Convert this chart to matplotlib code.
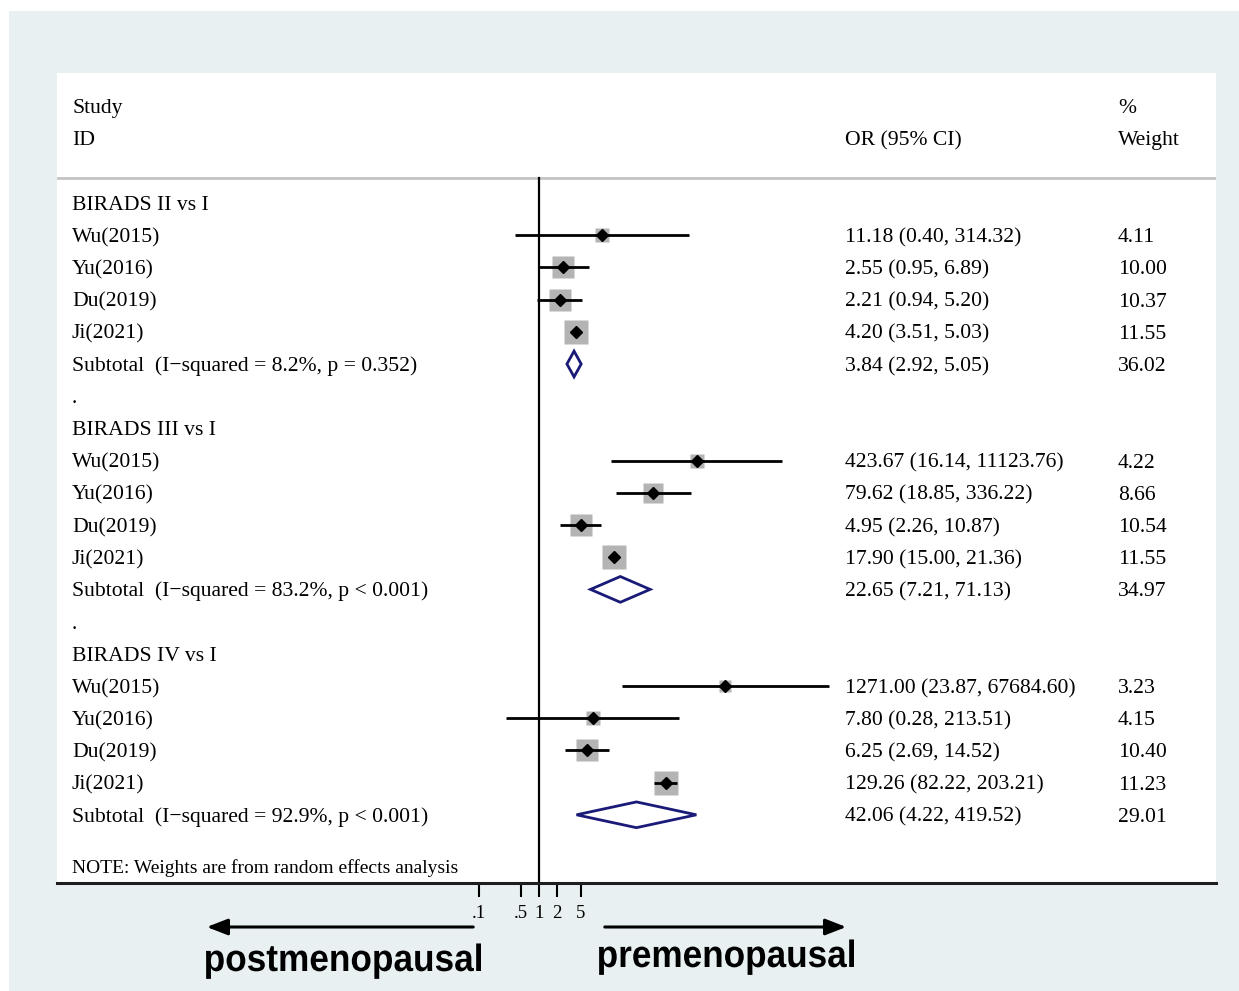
import numpy as np
import matplotlib
matplotlib.use("Agg")
import matplotlib.pyplot as plt
from matplotlib.patches import Rectangle, FancyArrowPatch, PathPatch
from matplotlib.textpath import TextPath
from matplotlib.font_manager import FontProperties
from matplotlib.transforms import blended_transform_factory, Affine2D, IdentityTransform
from matplotlib.ticker import FixedLocator, FixedFormatter, NullLocator

# ============================================================================
# DATA
# ============================================================================
studies = ["Wu(2015)", "Yu(2016)", "Du(2019)", "Ji(2021)"]
groups = ["BIRADS II vs I", "BIRADS III vs I", "BIRADS IV vs I"]

or_est = [[11.18, 2.55, 2.21, 4.20],
          [423.67, 79.62, 4.95, 17.90],
          [1271.00, 7.80, 6.25, 129.26]]
or_lo = [[0.40, 0.95, 0.94, 3.51],
         [16.14, 18.85, 2.26, 15.00],
         [23.87, 0.28, 2.69, 82.22]]
or_hi = [[314.32, 6.89, 5.20, 5.03],
         [11123.76, 336.22, 10.87, 21.36],
         [67684.60, 213.51, 14.52, 203.21]]
weights = [[4.11, 10.00, 10.37, 11.55],
           [4.22, 8.66, 10.54, 11.55],
           [3.23, 4.15, 10.40, 11.23]]

sub_est = [3.84, 22.65, 42.06]
sub_lo = [2.92, 7.21, 4.22]
sub_hi = [5.05, 71.13, 419.52]
sub_w = [36.02, 34.97, 29.01]
sub_het = ["(I\u2212squared = 8.2%, p = 0.352)",
           "(I\u2212squared = 83.2%, p < 0.001)",
           "(I\u2212squared = 92.9%, p < 0.001)"]

tick_vals = [0.1, 0.5, 1, 2, 5]
tick_labels = [".1", ".5", "1", "2", "5"]

# ============================================================================
# FIGURE
# ============================================================================
W, H = 1239, 991
fig = plt.figure(figsize=(W / 100, H / 100), dpi=100)
fig.patch.set_facecolor("white")
BG = "#e8f0f2"
fig.patches.append(Rectangle((9 / W, 0), 1 - 9 / W, 1 - 11 / H,
                             transform=fig.transFigure, facecolor=BG,
                             edgecolor="none", zorder=-10))

# panel: x 57..1216 px, y 73..883 px
px0, px1, py0, py1 = 57, 1216, 73, 883
ax = fig.add_axes([px0 / W, (H - py1) / H, (px1 - px0) / W, (py1 - py0) / H])
ax.set_zorder(1)
ax.set_facecolor("white")

# log scale, 60 px per decade, OR=1 at x=539 px
ppd, x_one = 60.0, 539
ax.set_xscale("log")
ax.set_xlim(10 ** ((px0 - x_one) / ppd), 10 ** ((px1 - x_one) / ppd))

row_h = 32.2
y_first = 203
ax.set_ylim((py1 - y_first) / row_h, (py0 - y_first) / row_h)

serif = "Liberation Serif"
fs = 15.6
base_off = 7 / row_h   # baseline sits ~7 px below row centre
tx = blended_transform_factory(ax.transAxes, ax.transData)
x_lab = (72 - px0) / (px1 - px0)
x_or = (845 - px0) / (px1 - px0)
x_w = (1118 - px0) / (px1 - px0)


def put(x, y, s, size=fs, off=base_off):
    ax.text(x, y + off, s, transform=tx, family=serif, fontsize=size, va="baseline")


# header
put(x_lab, (106 - y_first) / row_h, "Study")
put(x_lab, (138 - y_first) / row_h, "ID")
put(x_or, (138 - y_first) / row_h, "OR (95% CI)")
put(x_w, (106 - y_first) / row_h, "%")
put(x_w, (138 - y_first) / row_h, "Weight")
y_line = (178 - y_first) / row_h
ax.axhline(y_line, color="#c4c4c4", lw=2, zorder=1)
ax.plot([1, 1], [y_line, ax.get_ylim()[0]], color="black", lw=1.6, zorder=2)

row = 0
for g in range(len(groups)):
    put(x_lab, row, groups[g])
    row += 1
    for i in range(len(studies)):
        est, lo, hi, w = or_est[g][i], or_lo[g][i], or_hi[g][i], weights[g][i]
        ax.plot([est], [row], marker="s", ms=5.0 * np.sqrt(w), color="#b4b4b4",
                mec="none", zorder=3)
        ax.plot([lo, hi], [row, row], color="black", lw=2, zorder=4, solid_capstyle="butt")
        ax.plot([est], [row], marker="D", ms=6.5, color="black", zorder=5)
        put(x_lab, row, studies[i])
        put(x_or, row, f"{est:.2f} ({lo:.2f}, {hi:.2f})")
        put(x_w, row, f"{w:.2f}")
        row += 1
    # subtotal diamond
    dh = 0.40
    ax.fill([sub_lo[g], sub_est[g], sub_hi[g], sub_est[g]],
            [row, row - dh, row, row + dh], facecolor="none",
            edgecolor="#1a1a78", lw=2, zorder=5, joinstyle="miter")
    put(x_lab, row, "Subtotal  " + sub_het[g])
    put(x_or, row, f"{sub_est[g]:.2f} ({sub_lo[g]:.2f}, {sub_hi[g]:.2f})")
    put(x_w, row, f"{sub_w[g]:.2f}")
    row += 1
    if g < len(groups) - 1:
        put(x_lab, row, ".")
        row += 1

put(x_lab, (867 - y_first) / row_h, "NOTE: Weights are from random effects analysis",
    size=14, off=6 / row_h)

# axes styling
for s in ["top", "left", "right"]:
    ax.spines[s].set_visible(False)
ax.spines["bottom"].set_linewidth(2.2)
ax.spines["bottom"].set_color("#1e1e1e")
ax.xaxis.set_major_locator(FixedLocator(tick_vals))
ax.xaxis.set_major_formatter(FixedFormatter(tick_labels))
ax.xaxis.set_minor_locator(NullLocator())
ax.tick_params(axis="x", which="major", length=10, width=1.5, direction="out",
               pad=6, labelsize=13.5)
for lab in ax.get_xticklabels():
    lab.set_family(serif)
ax.set_yticks([])


# direction arrows and labels
def fx(p):
    return p / W


def fy(p):
    return 1 - p / H


arrow_kw = dict(arrowstyle="-|>,head_length=0.9,head_width=0.35", lw=2.2, color="black",
                transform=fig.transFigure, mutation_scale=14)
fig.add_artist(FancyArrowPatch((fx(476), fy(927)), (fx(204), fy(927)), **arrow_kw))
fig.add_artist(FancyArrowPatch((fx(602), fy(927)), (fx(849), fy(927)), **arrow_kw))

# the bold labels are slightly narrow in the original, so draw them as scaled paths
fp = FontProperties(family="Liberation Sans", weight="bold")


def narrow_label(s, left, right, baseline, em=38):
    tp = TextPath((0, 0), s, size=em, prop=fp)
    ext = tp.get_extents()
    sx = (right - left) / ext.width
    tr = Affine2D().translate(-ext.x0, 0).scale(sx, 1).translate(left, H - baseline)
    fig.add_artist(PathPatch(tp, transform=tr + IdentityTransform(),
                             facecolor="black", edgecolor="none"))


narrow_label("postmenopausal", 206, 481, 971)
narrow_label("premenopausal", 599, 854, 967)

fig.savefig("out.png", dpi=100)
